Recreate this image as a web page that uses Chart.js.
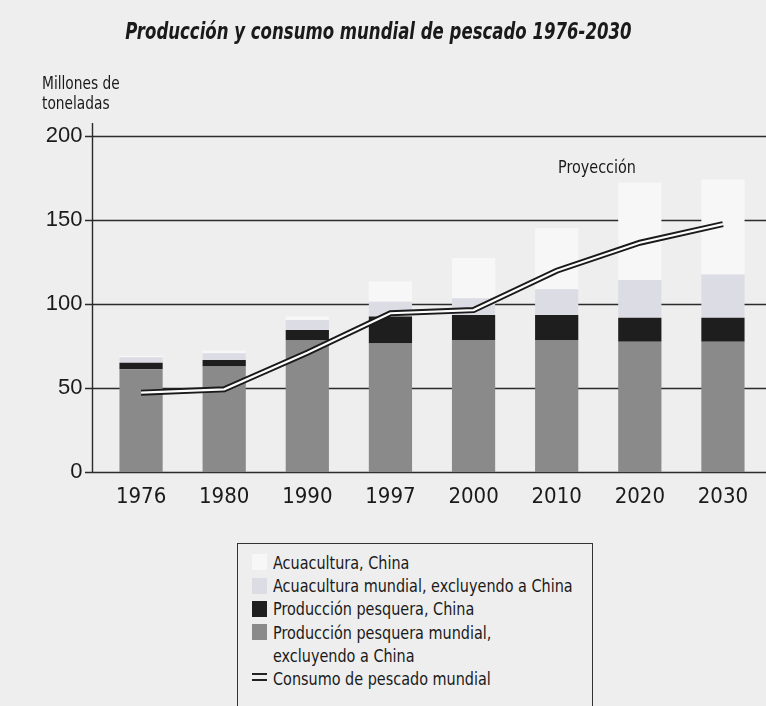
<!DOCTYPE html>
<html>
<head>
<meta charset="utf-8">
<script src="https://cdn.jsdelivr.net/npm/chart.js@4.4.1/dist/chart.umd.min.js"></script>
<style>
    body { margin: 0; background: #eeeeef; }
    #wrap { position: relative; width: 766px; height: 706px; overflow: hidden; }
    #fishChart { position: absolute; left: 0; top: 0; }
    .narrow { font-family: 'DejaVu Sans Condensed', 'Liberation Sans Narrow', sans-serif; color: #1a1a1a; position: absolute; white-space: nowrap; transform-origin: left center; }
    .title { left: 0; width: 757px; top: 18px; text-align: center; font-size: 23px; font-weight: bold; font-style: italic; transform: scaleX(0.8); transform-origin: 378px center; }
    .ytitle { left: 42px; top: 73px; font-size: 17px; line-height: 20px; transform: scaleX(0.9); }
    .proj { left: 558px; top: 156px; font-size: 18px; transform: scaleX(0.89); }
    #legend { position: absolute; left: 237px; top: 543px; width: 354px; height: 200px; border: 1.5px solid #333; }
    #legend .row { position: absolute; left: 35px; font-size: 18px; line-height: 23px; transform: scaleX(0.89); }
    #legend .sw { position: absolute; left: 14px; width: 15px; height: 16px; }
</style>
</head>
<body>
<div id="wrap">
    <canvas id="fishChart" width="766" height="530"></canvas>
    <div class="narrow title">Producción y consumo mundial de pescado 1976-2030</div>
    <div class="narrow ytitle">Millones de<br>toneladas</div>
    <div class="narrow proj">Proyección</div>
    <div id="legend">
        <div class="sw" style="top:10px;background:#f7f7f8"></div>
        <div class="narrow row" style="top:7px">Acuacultura, China</div>
        <div class="sw" style="top:34px;background:#dcdce5"></div>
        <div class="narrow row" style="top:30px">Acuacultura mundial, excluyendo a China</div>
        <div class="sw" style="top:57px;background:#1e1e1e"></div>
        <div class="narrow row" style="top:53px">Producción pesquera, China</div>
        <div class="sw" style="top:80px;background:#8a8a8a"></div>
        <div class="narrow row" style="top:77px">Producción pesquera mundial,</div>
        <div class="narrow row" style="top:100px">excluyendo a China</div>
        <div class="sw" style="top:129px;height:2px;background:#222"></div>
        <div class="sw" style="top:135px;height:2px;background:#222"></div>
        <div class="narrow row" style="top:123px">Consumo de pescado mundial</div>
    </div>
</div>
<script>
const years = ['1976', '1980', '1990', '1997', '2000', '2010', '2020', '2030'];
const pesqueraMundial = [61.2, 62.8, 78.6, 76.6, 78.6, 78.6, 77.6, 77.6];
const pesqueraChina = [3.9, 3.9, 5.9, 15.9, 14.9, 14.9, 14.3, 14.3];
const acuaMundial = [3.2, 4, 6, 8.9, 9.9, 15.2, 22.4, 25.7];
const acuaChina = [1, 1.5, 2, 12, 24, 36.3, 57.7, 56.4];
const consumo = [47.3, 49.3, 71, 94.5, 96.4, 119.8, 136.4, 147.5];
const yTicks = [0, 50, 100, 150, 200];

// grid and left axis go further left than the bar area, so draw them by hand
const gridPlugin = {
    id: 'gridPlugin',
    beforeDatasetsDraw(chart) {
        const c = chart.ctx;
        const y = chart.scales.y;
        c.save();
        c.strokeStyle = '#2b2b2b';
        c.lineWidth = 1.4;
        yTicks.forEach(v => {
            const py = Math.round(y.getPixelForValue(v)) + 0.5;
            c.beginPath();
            c.moveTo(85, py);
            c.lineTo(766, py);
            c.stroke();
        });
        c.beginPath();
        c.moveTo(92.5, 123);
        c.lineTo(92.5, y.getPixelForValue(0));
        c.stroke();
        c.restore();
    }
};

const ctx = document.getElementById('fishChart');

new Chart(ctx, {
    type: 'bar',
    data: {
        labels: years,
        datasets: [
            {
                type: 'line',
                label: 'Consumo de pescado mundial',
                data: consumo,
                borderColor: '#fdfdfd',
                borderWidth: 2.2,
                pointRadius: 0,
                tension: 0,
                stack: 'l2',
                order: -1
            },
            {
                type: 'line',
                label: 'borde',
                data: consumo,
                borderColor: '#1a1a1a',
                borderWidth: 6,
                pointRadius: 0,
                tension: 0,
                stack: 'l1',
                order: 0
            },
            {
                label: 'Producción pesquera mundial, excluyendo a China',
                data: pesqueraMundial,
                backgroundColor: '#8a8a8a',
                stack: 'b',
                order: 1
            },
            {
                label: 'Producción pesquera, China',
                data: pesqueraChina,
                backgroundColor: '#1e1e1e',
                stack: 'b',
                order: 1
            },
            {
                label: 'Acuacultura mundial, excluyendo a China',
                data: acuaMundial,
                backgroundColor: '#dcdce5',
                stack: 'b',
                order: 1
            },
            {
                label: 'Acuacultura, China',
                data: acuaChina,
                backgroundColor: '#f7f7f8',
                stack: 'b',
                order: 1
            }
        ]
    },
    options: {
        responsive: false,
        animation: false,
        layout: {
            padding: { top: 135.7, right: 1.5, left: 0, bottom: 0 }
        },
        datasets: {
            bar: { categoryPercentage: 1, barPercentage: 0.52 }
        },
        plugins: {
            legend: { display: false },
            tooltip: { enabled: false }
        },
        scales: {
            x: {
                stacked: true,
                grid: { display: false },
                border: { display: false },
                afterFit(s) { s.height = 57.7; },
                ticks: {
                    color: '#1a1a1a',
                    padding: 4,
                    font: { family: "'DejaVu Sans Condensed', sans-serif", size: 22 }
                }
            },
            y: {
                stacked: true,
                min: 0,
                max: 200,
                grid: { display: false },
                border: { display: false },
                afterFit(s) { s.width = 99.5; },
                ticks: {
                    stepSize: 50,
                    color: '#1a1a1a',
                    padding: 9,
                    font: { family: "'Liberation Sans', Arial, sans-serif", size: 22 }
                }
            }
        }
    },
    plugins: [gridPlugin]
});
</script>
</body>
</html>
